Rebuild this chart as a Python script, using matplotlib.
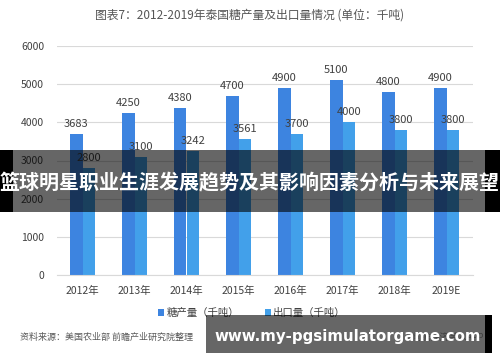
import matplotlib
matplotlib.use("Agg")
import matplotlib.pyplot as plt
import matplotlib.patches as mpatches
import numpy as np

plt.rcParams['font.family'] = ['Noto Sans CJK SC', 'DejaVu Sans']

years = ['2012年', '2013年', '2014年', '2015年', '2016年', '2017年', '2018年', '2019E']
sugar = [3683, 4250, 4380, 4700, 4900, 5100, 4800, 4900]
export = [2800, 3100, 3242, 3561, 3700, 4000, 3800, 3800]
yticks = [0, 1000, 2000, 3000, 4000, 5000, 6000]

c1 = '#3d84e0'
c2 = '#42a0ea'
W, H = 500, 362

def fx(px):
    return px / W

def fy(py):
    return 1 - py / H

fig = plt.figure(figsize=(5, 3.62), dpi=100)
ax = fig.add_axes([fx(56.5), fy(275), fx(472.5) - fx(56.5), fy(46) - fy(275)])

x = np.arange(len(years))
w = 0.24
ax.bar(x - w / 2, sugar, w, color=c1, label='糖产量（千吨）')
ax.bar(x + w / 2, export, w, color=c2, label='出口量（千吨）')

for xi, v in zip(x, sugar):
    ax.text(xi - w / 2, v + 130, str(v), ha='center', va='bottom', fontsize=8, color='#404040')
for xi, v in zip(x, export):
    ax.text(xi + w / 2, v + 130, str(v), ha='center', va='bottom', fontsize=8, color='#404040')

ax.set_xlim(-0.5, len(years) - 0.5)
ax.set_ylim(0, 6000)
ax.set_yticks(yticks)
ax.set_yticklabels([str(t) for t in yticks], fontsize=7.5, color='#404040')
ax.set_xticks(x)
ax.set_xticklabels(years, fontsize=7.5, color='#404040')
ax.tick_params(length=0, pad=8)
ax.tick_params(axis='y', pad=9)
ax.grid(axis='y', color='#d9d9d9', linewidth=0.8)
ax.set_axisbelow(True)
for s in ['top', 'right', 'left']:
    ax.spines[s].set_visible(False)
ax.spines['bottom'].set_color('#d9d9d9')

fig.text(0.5, fy(15), '图表7：2012-2019年泰国糖产量及出口量情况 (单位：千吨)',
         ha='center', va='center', fontsize=8.5, color='#555555')

ax.legend(loc='center', bbox_to_anchor=(fx(252), fy(313)), bbox_transform=fig.transFigure,
          ncol=2, frameon=False, fontsize=7.5, handlelength=0.6, handleheight=0.6,
          handletextpad=0.2, columnspacing=2.5, labelcolor='#404040')

fig.text(fx(20), fy(337), '资料来源：美国农业部 前瞻产业研究院整理', ha='left', va='center',
         fontsize=6.5, color='#595959', style='italic')
fig.text(fx(484), fy(337), '@前瞻经济学人APP', ha='right', va='center',
         fontsize=6.5, color='#404040')

# overlay banner in the middle
fig.add_artist(mpatches.Rectangle((fx(13), fy(212)), fx(472), fy(150) - fy(212),
               transform=fig.transFigure, color='black', alpha=0.6, lw=0))
fig.add_artist(mpatches.Rectangle((0, fy(212)), fx(13), fy(150) - fy(212),
               transform=fig.transFigure, color='black', lw=0))
fig.add_artist(mpatches.Rectangle((fx(485), fy(212)), fx(15), fy(150) - fy(212),
               transform=fig.transFigure, color='black', lw=0))
fig.text(0.5, fy(183), '篮球明星职业生涯发展趋势及其影响因素分析与未来展望',
         ha='center', va='center', fontsize=14.4, color='white', fontweight='bold')

# overlay banner at the bottom
fig.add_artist(mpatches.Rectangle((fx(206), fy(353)), fx(279), fy(315) - fy(353),
               transform=fig.transFigure, color='black', alpha=0.6, lw=0))
fig.add_artist(mpatches.Rectangle((fx(485), fy(353)), fx(7), fy(315) - fy(353),
               transform=fig.transFigure, color='black', lw=0))
fig.text(fx(348), fy(337), 'www.my-pgsimulatorgame.com', ha='center', va='center',
         fontsize=10.8, color='white', fontweight='bold', family='DejaVu Sans')

fig.savefig('out.png', dpi=100)
